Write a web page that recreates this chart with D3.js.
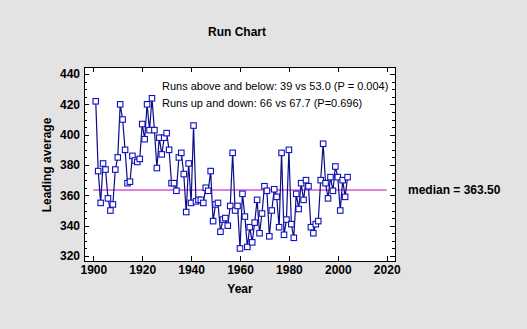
<!DOCTYPE html>
<html>
<head>
<meta charset="utf-8">
<script src="https://cdn.jsdelivr.net/npm/d3@7"></script>
<style>
  body { margin: 0; background: #e3e3e3; }
  svg { display: block; font-family: Arial, "Liberation Sans", sans-serif; }
  .axis path { display: none; }
  .axis line { stroke: #000; }
  .axis text { font-size: 12px; font-weight: bold; fill: #000; }
</style>
</head>
<body>
<script>
// leading batting average (x1000) per season
const years = d3.range(1901, 2005);
const leadingAverage = [
  422, 376, 355, 381, 377, 358, 350, 354, 377, 385,
  420, 410, 390, 368, 369, 386, 383, 382, 384, 407,
  397, 420, 403, 424, 403, 378, 398, 387, 398, 401,
  390, 368, 368, 363, 385, 388, 374, 349, 381, 355,
  406, 356, 357, 357, 355, 365, 363, 376, 343, 354,
  355, 336, 344, 345, 340, 353, 388, 350, 353, 325,
  361, 346, 326, 339, 329, 342, 357, 335, 348, 366,
  363, 333, 350, 364, 359, 339, 388, 334, 344, 390,
  341, 332, 361, 351, 368, 357, 370, 366, 339, 335,
  341, 343, 370, 394, 368, 358, 372, 363, 379, 372,
  350, 370, 359, 372
];
const median = 363.5;
const xTicks = [1900, 1920, 1940, 1960, 1980, 2000, 2020];
const yTicks = [320, 340, 360, 380, 400, 420, 440];
const yMinor = d3.range(320, 441, 5);
const runNotes = [
  "Runs above and below: 39 vs 53.0 (P = 0.004)",
  "Runs up and down: 66 vs 67.7 (P=0.696)"
];

const W = 527, H = 329;
const frame = { left: 84, top: 67, right: 395, bottom: 261 };

const svg = d3.select("body").append("svg")
  .attr("width", W)
  .attr("height", H);

const x = d3.scaleLinear().domain([1900, 2020]).range([93.3, 386.7]);
const y = d3.scaleLinear().domain([320, 440]).range([256, 74]);

// plot area
svg.append("rect")
  .attr("x", frame.left).attr("y", frame.top)
  .attr("width", frame.right - frame.left)
  .attr("height", frame.bottom - frame.top)
  .attr("fill", "#fff")
  .attr("stroke", "#000")
  .attr("shape-rendering", "crispEdges");

// axes, ticks pointing inward on all four sides
svg.append("g").attr("class", "axis")
  .attr("transform", "translate(0," + frame.bottom + ")")
  .call(d3.axisBottom(x).tickValues(xTicks).tickFormat(d3.format("d"))
    .tickSizeInner(-5).tickSizeOuter(0).tickPadding(4));
svg.append("g").attr("class", "axis")
  .attr("transform", "translate(0," + frame.top + ")")
  .call(d3.axisTop(x).tickValues(xTicks).tickFormat("")
    .tickSizeInner(-5).tickSizeOuter(0));

svg.append("g").attr("class", "axis")
  .attr("transform", "translate(" + frame.left + ",0)")
  .call(d3.axisLeft(y).tickValues(yTicks).tickFormat(d3.format("d"))
    .tickSizeInner(-5).tickSizeOuter(0).tickPadding(4));
svg.append("g").attr("class", "axis")
  .attr("transform", "translate(" + frame.left + ",0)")
  .call(d3.axisLeft(y).tickValues(yMinor).tickFormat("")
    .tickSizeInner(-3).tickSizeOuter(0));
svg.append("g").attr("class", "axis")
  .attr("transform", "translate(" + frame.right + ",0)")
  .call(d3.axisRight(y).tickValues(yTicks).tickFormat("")
    .tickSizeInner(-5).tickSizeOuter(0));
svg.append("g").attr("class", "axis")
  .attr("transform", "translate(" + frame.right + ",0)")
  .call(d3.axisRight(y).tickValues(yMinor).tickFormat("")
    .tickSizeInner(-3).tickSizeOuter(0));

svg.selectAll(".axis line").attr("shape-rendering", "crispEdges");

// median line
svg.append("line")
  .attr("x1", x(1900)).attr("x2", x(2020))
  .attr("y1", y(median)).attr("y2", y(median))
  .attr("stroke", "#c000c0")
  .attr("stroke-width", 1);

// the series
const pts = years.map((yr, i) => [yr, leadingAverage[i]]);
svg.append("path")
  .datum(pts)
  .attr("fill", "none")
  .attr("stroke", "#0c0c88")
  .attr("stroke-width", 1.2)
  .attr("d", d3.line().x(d => x(d[0])).y(d => y(d[1])));

svg.selectAll("rect.pt")
  .data(pts)
  .enter()
  .append("rect")
  .attr("class", "pt")
  .attr("x", d => x(d[0]) - 2.75)
  .attr("y", d => y(d[1]) - 2.75)
  .attr("width", 5.5)
  .attr("height", 5.5)
  .attr("fill", "#fff")
  .attr("stroke", "#1010c0")
  .attr("stroke-width", 1.1);

// text
svg.append("text")
  .attr("x", 237).attr("y", 36)
  .attr("text-anchor", "middle")
  .style("font-size", "12px").style("font-weight", "bold")
  .text("Run Chart");

svg.append("text")
  .attr("x", x(1960)).attr("y", 293)
  .attr("text-anchor", "middle")
  .style("font-size", "12px").style("font-weight", "bold")
  .text("Year");

svg.append("text")
  .attr("transform", "translate(51,165) rotate(-90)")
  .attr("text-anchor", "middle")
  .style("font-size", "12px").style("font-weight", "bold")
  .text("Leading average");

svg.append("text")
  .attr("x", 408).attr("y", y(median) + 4)
  .style("font-size", "12px").style("font-weight", "bold")
  .text("median = " + median.toFixed(2));

svg.selectAll("text.note")
  .data(runNotes)
  .enter()
  .append("text")
  .attr("class", "note")
  .attr("x", 162)
  .attr("y", (d, i) => 90 + i * 17)
  .style("font-size", "11px")
  .text(d => d);
</script>
</body>
</html>
